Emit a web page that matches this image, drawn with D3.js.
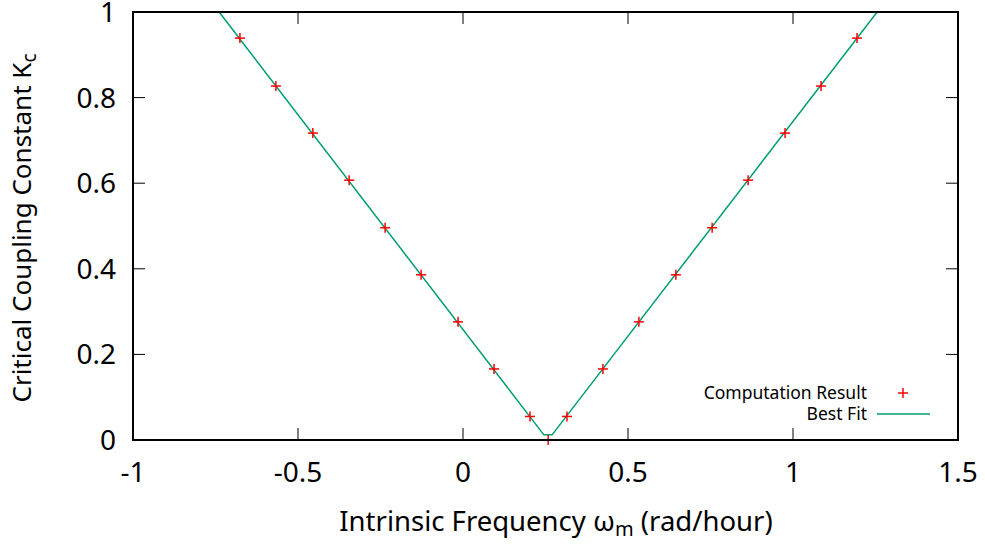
<!DOCTYPE html>
<html>
<head>
<meta charset="utf-8">
<script src="https://cdn.jsdelivr.net/npm/d3@7"></script>
<style>
body{margin:0;background:#fff;}
svg text{font-family:"Noto Sans",sans-serif;fill:#000;}
</style>
</head>
<body>
<svg id="chart" width="985" height="546"></svg>
<script>
// computed points (omega, Kc)
var omega=[-0.676,-0.567,-0.455,-0.345,-0.236,-0.127,-0.015,0.094,0.203,0.258,0.315,0.424,0.533,0.645,0.755,0.864,0.976,1.085,1.194];
var kc=[0.939,0.827,0.717,0.607,0.496,0.386,0.276,0.166,0.055,0.0,0.055,0.166,0.276,0.386,0.496,0.607,0.717,0.827,0.939];
// best fit line
var fitOmega=[-0.739,0.245,0.270,1.255];
var fitKc=[1.0,0.012,0.012,1.0];
var xTicks=[-1,-0.5,0,0.5,1,1.5];
var yTicks=[0,0.2,0.4,0.6,0.8,1];

var mLeft=133,mRight=958,mTop=12,mBottom=440;
var svg=d3.select("#chart");

var x=d3.scaleLinear().domain([-1,1.5]).range([mLeft,mRight]);
var y=d3.scaleLinear().domain([0,1]).range([mBottom,mTop]);

var tickLen=12;
function fmt(d){return String(d);}

// ticks (inner, mirrored)
var g=svg.append("g").attr("stroke","#000").attr("stroke-width",1);
xTicks.forEach(function(d){
  g.append("line").attr("x1",x(d)).attr("x2",x(d)).attr("y1",mBottom).attr("y2",mBottom-tickLen);
  g.append("line").attr("x1",x(d)).attr("x2",x(d)).attr("y1",mTop).attr("y2",mTop+tickLen);
});
yTicks.forEach(function(d){
  g.append("line").attr("x1",mLeft).attr("x2",mLeft+tickLen).attr("y1",y(d)).attr("y2",y(d));
  g.append("line").attr("x1",mRight).attr("x2",mRight-tickLen).attr("y1",y(d)).attr("y2",y(d));
});

svg.selectAll(".xl").data(xTicks).enter().append("text")
  .attr("x",function(d){return x(d);}).attr("y",482)
  .attr("text-anchor","middle").attr("font-size",28)
  .text(fmt);
svg.selectAll(".yl").data(yTicks).enter().append("text")
  .attr("x",116).attr("y",function(d){return y(d)+10;})
  .attr("text-anchor","end").attr("font-size",28)
  .text(fmt);

// fit line
var line=d3.line().x(function(d){return x(d[0]);}).y(function(d){return y(d[1]);});
svg.append("path").datum(d3.zip(fitOmega,fitKc))
  .attr("d",line).attr("fill","none").attr("stroke","#009e73").attr("stroke-width",1.5);

// points
var ps=5;
var pts=svg.append("g").attr("stroke","#ff0000").attr("stroke-width",1.5);
d3.zip(omega,kc).forEach(function(p){
  var cx=x(p[0]),cy=y(p[1]);
  pts.append("line").attr("x1",cx-ps).attr("x2",cx+ps).attr("y1",cy).attr("y2",cy);
  pts.append("line").attr("x1",cx).attr("x2",cx).attr("y1",cy-ps).attr("y2",cy+ps);
});

// border
svg.append("rect").attr("x",mLeft).attr("y",mTop).attr("width",mRight-mLeft).attr("height",mBottom-mTop)
  .attr("fill","none").attr("stroke","#000").attr("stroke-width",2);

// legend
svg.append("text").attr("x",867).attr("y",399).attr("text-anchor","end").attr("font-size",17.5).text("Computation Result");
pts.append("line").attr("x1",903-ps).attr("x2",903+ps).attr("y1",393).attr("y2",393);
pts.append("line").attr("x1",903).attr("x2",903).attr("y1",393-ps).attr("y2",393+ps);
svg.append("text").attr("x",867).attr("y",420).attr("text-anchor","end").attr("font-size",17.5).text("Best Fit");
svg.append("line").attr("x1",877).attr("x2",930).attr("y1",414).attr("y2",414).attr("stroke","#009e73").attr("stroke-width",1.5);

// axis titles
var xt=svg.append("text").attr("x",556).attr("y",531).attr("text-anchor","middle").attr("font-size",27.5);
xt.append("tspan").text("Intrinsic Frequency \u03c9");
xt.append("tspan").attr("font-size",20).attr("dy",5).text("m");
xt.append("tspan").attr("dy",-5).text(" (rad/hour)");

var yt=svg.append("text").attr("transform","translate(31,228) rotate(-90)").attr("text-anchor","middle").attr("font-size",26);
yt.append("tspan").text("Critical Coupling Constant K");
yt.append("tspan").attr("font-size",19).attr("dy",5).text("c");
</script>
</body>
</html>
